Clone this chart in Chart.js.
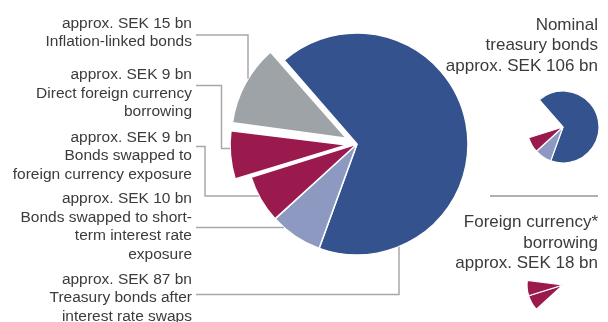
<!DOCTYPE html>
<html lang="en">
<head>
<meta charset="UTF-8">
<title>Central government debt by instrument</title>
<script src="https://cdn.jsdelivr.net/npm/chart.js"></script>
<style>
    body { margin: 0; background: #fff; }
    #wrap { position: relative; width: 608px; height: 322px; overflow: hidden; font-family: "Liberation Sans", Arial, sans-serif; color: #3b3b3b; }
    canvas { position: absolute; }
    .lbl { position: absolute; text-align: right; white-space: nowrap; }
    .left { right: 416px; font-size: 15.5px; line-height: 18.5px; }
    .side { right: 10px; font-size: 17px; line-height: 20.5px; }
    .rule { position: absolute; left: 490px; top: 195px; width: 108px; height: 0; border-top: 2px solid #b0b0b0; }
</style>
</head>
<body>
<div id="wrap">
    <canvas id="mainPie" width="608" height="322" style="left:0;top:0"></canvas>
    <canvas id="nominalPie" width="90" height="90" style="left:518px;top:82px"></canvas>
    <canvas id="foreignPie" width="90" height="90" style="left:518px;top:240px"></canvas>
    <div class="rule"></div>
</div>

<script>
    // debt split, SEK bn
    const categories = [
        'Treasury bonds after interest rate swaps',
        'Bonds swapped to short-term interest rate exposure',
        'Bonds swapped to foreign currency exposure',
        'Direct foreign currency borrowing',
        'Inflation-linked bonds'
    ];
    const amounts = [87, 10, 9, 9, 15];
    const labelLines = [
        ['Treasury bonds after', 'interest rate swaps'],
        ['Bonds swapped to short-', 'term interest rate', 'exposure'],
        ['Bonds swapped to', 'foreign currency exposure'],
        ['Direct foreign currency', 'borrowing'],
        ['Inflation-linked bonds']
    ];
    const nominalMembers = [0, 1, 2];
    const foreignMembers = [2, 3];
    const nominalTitle = ['Nominal', 'treasury bonds'];
    const foreignTitle = ['Foreign currency*', 'borrowing'];

    const sliceColors = ['#33528e', '#8d99c0', '#9b1a4e', '#9b1a4e', '#9ea3a8'];
    const explodeShift = [0, 0, 0, 16, 16];
    const startAngle = -41;
    const total = amounts.reduce((a, b) => a + b, 0);

    // label block tops and leader paths (last segment runs to the slice edge)
    const labelTop = [269.5, 189, 127.5, 65, 13.5];
    const leaders = [
        { pts: [[196, 294.5], [399, 294.5]], end: 'v' },
        { pts: [[196, 227.5]], end: 'h' },
        { pts: [[196, 146.5], [205, 146.5], [205, 196]], end: 'h' },
        { pts: [[196, 85.5], [221.5, 85.5], [221.5, 148.5]], end: 'h' },
        { pts: [[196, 35], [248, 35]], end: 'v' }
    ];

    // Chart.js moves an arc by offset/4 * (2 - sin(circumference)), so invert that
    function offsetFor(i) {
        const circ = amounts[i] / total * Math.PI * 2;
        const fix = 1 - Math.sin(Math.min(Math.PI, circ));
        return 4 * explodeShift[i] / (1 + fix);
    }

    function arcCentre(arc, i) {
        const mid = (arc.startAngle + arc.endAngle) / 2;
        return { x: arc.x + Math.cos(mid) * explodeShift[i], y: arc.y + Math.sin(mid) * explodeShift[i] };
    }

    const leaderPlugin = {
        id: 'leaders',
        afterDatasetsDraw(chart) {
            const ctx = chart.ctx;
            const arcs = chart.getDatasetMeta(0).data;
            ctx.save();
            ctx.strokeStyle = '#a8a8a8';
            ctx.lineWidth = 1.5;
            leaders.forEach((l, i) => {
                const arc = arcs[i];
                const c = arcCentre(arc, i);
                const r = arc.outerRadius;
                const last = l.pts[l.pts.length - 1];
                let endPt;
                if (l.end === 'v') {
                    const dy = Math.sqrt(r * r - Math.pow(last[0] - c.x, 2));
                    endPt = [last[0], last[1] > c.y ? c.y + dy : c.y - dy];
                } else {
                    const dx = Math.sqrt(r * r - Math.pow(last[1] - c.y, 2));
                    endPt = [c.x - dx, last[1]];
                }
                ctx.beginPath();
                ctx.moveTo(l.pts[0][0], l.pts[0][1]);
                l.pts.slice(1).forEach(p => ctx.lineTo(p[0], p[1]));
                ctx.lineTo(endPt[0], endPt[1]);
                ctx.stroke();
            });
            ctx.restore();
        }
    };

    function pieOptions(radius, padding) {
        return {
            responsive: false,
            animation: false,
            rotation: startAngle,
            radius: radius,
            layout: { padding: padding },
            plugins: { legend: { display: false }, tooltip: { enabled: false } }
        };
    }

    new Chart(document.getElementById('mainPie'), {
        type: 'pie',
        data: {
            labels: categories,
            datasets: [{
                data: amounts,
                backgroundColor: sliceColors,
                borderColor: '#fff',
                borderWidth: 1.5,
                offset: amounts.map((v, i) => offsetFor(i))
            }]
        },
        options: pieOptions(111, { left: 106, right: 0, top: 0, bottom: 34 }),
        plugins: [leaderPlugin]
    });

    function subPie(id, members) {
        new Chart(document.getElementById(id), {
            type: 'pie',
            data: {
                labels: categories,
                datasets: [{
                    data: amounts,
                    backgroundColor: sliceColors.map((c, i) => members.includes(i) ? c : 'rgba(0,0,0,0)'),
                    borderColor: amounts.map((v, i) => members.includes(i) ? '#fff' : 'rgba(0,0,0,0)'),
                    borderWidth: 1.2
                }]
            },
            options: pieOptions(36, 0)
        });
    }
    subPie('nominalPie', nominalMembers);
    subPie('foreignPie', foreignMembers);

    // text blocks
    const wrap = document.getElementById('wrap');
    function addBlock(cls, top, lines) {
        const div = document.createElement('div');
        div.className = 'lbl ' + cls;
        div.style.top = top + 'px';
        div.innerHTML = lines.map(t => '<div>' + t + '</div>').join('');
        wrap.appendChild(div);
    }
    categories.forEach((c, i) => {
        addBlock('left', labelTop[i], ['approx. SEK ' + amounts[i] + ' bn'].concat(labelLines[i]));
    });
    const sumOf = m => m.reduce((s, i) => s + amounts[i], 0);
    addBlock('side', 14.5, nominalTitle.concat(['approx. SEK ' + sumOf(nominalMembers) + ' bn']));
    addBlock('side', 212, foreignTitle.concat(['approx. SEK ' + sumOf(foreignMembers) + ' bn']));
</script>
</body>
</html>
